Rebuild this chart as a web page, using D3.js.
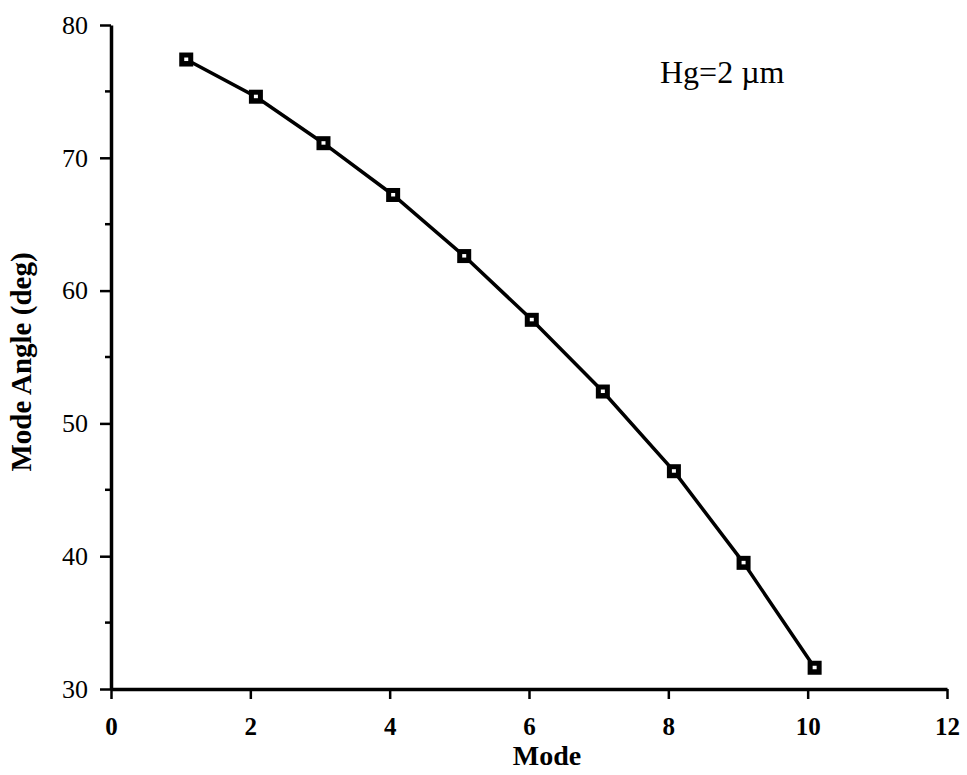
<!DOCTYPE html>
<html>
<head>
<meta charset="utf-8">
<script src="https://cdn.jsdelivr.net/npm/d3@7"></script>
<style>
  body { margin: 0; background: #fff; }
  svg text { font-family: "Liberation Serif", "DejaVu Serif", serif; fill: #000; }
</style>
</head>
<body>
<div id="chart"></div>
<script>
const modes = [1.08, 2.08, 3.05, 4.05, 5.07, 6.04, 7.06, 8.08, 9.08, 10.1];
const angles = [77.4, 74.6, 71.1, 67.2, 62.6, 57.8, 52.4, 46.4, 39.5, 31.6];
const xTicks = [0, 2, 4, 6, 8, 10, 12];
const yTicks = [30, 40, 50, 60, 70, 80];
const yMinorTicks = [35, 45, 55, 65, 75];
const annotation = "Hg=2 \u00b5m";

const width = 967, height = 775;

const svg = d3.select("#chart").append("svg")
  .attr("width", width).attr("height", height);

const x = d3.scaleLinear().domain([0, 12]).range([111, 947]);
const y = d3.scaleLinear().domain([30, 80]).range([689, 25]);

// x axis
const xAxis = svg.append("g")
  .attr("transform", `translate(0,${y(30)})`)
  .call(d3.axisBottom(x).tickValues(xTicks).tickSize(10).tickPadding(18).tickSizeOuter(0));
xAxis.select(".domain").attr("stroke-width", 3.5).attr("stroke", "#000");
xAxis.selectAll(".tick line").attr("stroke-width", 2.5).attr("stroke", "#000");
xAxis.selectAll(".tick text").attr("font-size", 25).attr("font-weight", "bold");

// y axis
const yAxis = svg.append("g")
  .attr("transform", `translate(${x(0)},0)`)
  .call(d3.axisLeft(y).tickValues(yTicks).tickSize(11).tickPadding(12).tickSizeOuter(0));
yAxis.select(".domain").attr("stroke-width", 3.5).attr("stroke", "#000");
yAxis.selectAll(".tick line").attr("stroke-width", 2.5).attr("stroke", "#000");
yAxis.selectAll(".tick text").attr("font-size", 26);

svg.append("g").selectAll("line")
  .data(yMinorTicks)
  .enter()
  .append("line")
  .attr("x1", x(0) - 6).attr("x2", x(0))
  .attr("y1", (d) => y(d)).attr("y2", (d) => y(d))
  .attr("stroke", "#000").attr("stroke-width", 2.5);

// axis titles
svg.append("text")
  .attr("x", x(6) + 18).attr("y", 765)
  .attr("text-anchor", "middle")
  .attr("font-size", 28)
  .attr("font-weight", "bold")
  .text("Mode");

svg.append("text")
  .attr("transform", `translate(31,362) rotate(-90)`)
  .attr("text-anchor", "middle")
  .attr("font-size", 29)
  .attr("font-weight", "bold")
  .text("Mode Angle (deg)");

svg.append("text")
  .attr("x", 660).attr("y", 83)
  .attr("font-size", 32)
  .text(annotation);

// line
const points = modes.map((m, i) => ({ m, a: angles[i] }));
svg.append("path")
  .datum(points)
  .attr("fill", "none")
  .attr("stroke", "#000")
  .attr("stroke-width", 3.5)
  .attr("d", d3.line().x((d) => x(d.m)).y((d) => y(d.a)));

// markers
const marks = svg.append("g").selectAll("g")
  .data(points)
  .enter()
  .append("g")
  .attr("transform", (d) => `translate(${x(d.m)},${y(d.a)})`);
marks.append("rect")
  .attr("x", -7).attr("y", -7).attr("width", 14).attr("height", 14)
  .attr("fill", "#000");
marks.append("rect")
  .attr("x", -2).attr("y", -2).attr("width", 4).attr("height", 3.5)
  .attr("fill", "#fff");
</script>
</body>
</html>
